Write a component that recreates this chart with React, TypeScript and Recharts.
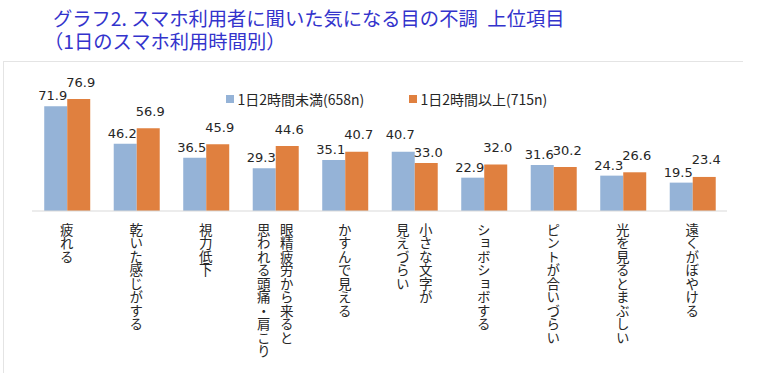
import React from "react";
import { BarChart, Bar, XAxis, YAxis, LabelList } from "recharts";

const titleLines = [
  "グラフ2. スマホ利用者に聞いた気になる目の不調\u2002上位項目",
  "（1日のスマホ利用時間別）",
];

const categoryLines: string[][] = [
  ["疲れる"],
  ["乾いた感じがする"],
  ["視力低下"],
  ["眼精疲労から来ると", "思われる頭痛・肩こり"],
  ["かすんで見える"],
  ["小さな文字が", "見えづらい"],
  ["ショボショボする"],
  ["ピントが合いづらい"],
  ["光を見るとまぶしい"],
  ["遠くがぼやける"],
];

const seriesNames = ["1日2時間未満(658n)", "1日2時間以上(715n)"];
const under2h = [71.9, 46.2, 36.5, 29.3, 35.1, 40.7, 22.9, 31.6, 24.3, 19.5];
const over2h = [76.9, 56.9, 45.9, 44.6, 40.7, 33.0, 32.0, 30.2, 26.6, 23.4];

const BLUE = "#95B3D7";
const ORANGE = "#E0803F";
const TEXT = "#262626";
const CJK = "'Noto Sans CJK JP', 'Noto Sans', sans-serif";
const NUM = "'DejaVu Sans', 'Noto Sans CJK JP', sans-serif";

const data = categoryLines.map((lines, i) => ({
  name: lines.join(""),
  a: under2h[i],
  b: over2h[i],
}));

function raised(series: "a" | "b", i: number) {
  const blueTaller = under2h[i] > over2h[i] + 3;
  return series === "a" ? blueTaller : !blueTaller;
}

const makeLabel = (series: "a" | "b") => (props: any) => {
  const { x, y, width, value, index } = props;
  const gap = raised(series, index) ? 12.5 : 6;
  const shift = series === "a" ? -3 : 2;
  return (
    <text
      x={Number(x) + Number(width) / 2 + shift}
      y={Number(y) - gap}
      textAnchor="middle"
      fill={TEXT}
      fontSize={13}
      fontFamily={NUM}
    >
      {Number(value).toFixed(1)}
    </text>
  );
};

const Tick = (props: any) => {
  const { x, payload } = props;
  const lines = categoryLines[payload.index] || [payload.value];
  const n = lines.length;
  const spacing = 23;
  return (
    <g>
      {lines.map((line, k) => {
        const cx = Number(x) + ((n - 1) / 2 - k) * spacing;
        return (
          <text
            key={k}
            x={cx}
            y={223}
            fill={TEXT}
            fontSize={13.5}
            fontFamily={CJK}
            style={{ writingMode: "vertical-rl" as any }}
          >
            {line}
          </text>
        );
      })}
    </g>
  );
};

export default function App() {
  return (
    <div
      style={{
        position: "absolute",
        left: 0,
        top: 0,
        width: 782,
        height: 373,
        background: "#fff",
        overflow: "hidden",
      }}
    >
      <div
        style={{
          position: "absolute",
          left: 3,
          top: 61,
          width: 740,
          height: 1,
          background: "#e4e4e4",
        }}
      />
      <div
        style={{
          position: "absolute",
          left: 3,
          top: 61,
          width: 1,
          height: 312,
          background: "#e4e4e4",
        }}
      />
      {titleLines.map((t, i) => (
        <div
          key={i}
          style={{
            position: "absolute",
            left: i === 0 ? 53 : 44,
            top: i === 0 ? 8.5 : 31.5,
            fontFamily: CJK,
            fontSize: 19.3,
            lineHeight: "19px",
            color: "#3333CC",
            whiteSpace: "pre",
          }}
        >
          {t}
        </div>
      ))}
      {seriesNames.map((nm, i) => (
        <div
          key={nm}
          style={{
            position: "absolute",
            left: i === 0 ? 226 : 409,
            top: 90,
            height: 18,
            display: "flex",
            alignItems: "center",
            fontFamily: CJK,
            fontSize: 14,
            color: TEXT,
            whiteSpace: "nowrap",
          }}
        >
          <span
            style={{
              display: "inline-block",
              width: 7.5,
              height: 7.5,
              background: i === 0 ? BLUE : ORANGE,
              marginRight: 4,
            }}
          />
          {nm}
        </div>
      ))}
      <div style={{ position: "absolute", left: 0, top: 0 }}>
        <BarChart
          width={782}
          height={373}
          data={data}
          margin={{ top: 80, right: 55, bottom: 12, left: 32 }}
          barCategoryGap="17.6%"
          barGap={0}
        >
          <XAxis
            dataKey="name"
            height={150}
            interval={0}
            tickLine={false}
            axisLine={{ stroke: "#d9d9d9" }}
            tick={<Tick />}
          />
          <YAxis hide domain={[0, 90]} width={0} />
          <Bar dataKey="a" fill={BLUE} isAnimationActive={false}>
            <LabelList dataKey="a" content={makeLabel("a")} />
          </Bar>
          <Bar dataKey="b" fill={ORANGE} isAnimationActive={false}>
            <LabelList dataKey="b" content={makeLabel("b")} />
          </Bar>
        </BarChart>
      </div>
    </div>
  );
}
